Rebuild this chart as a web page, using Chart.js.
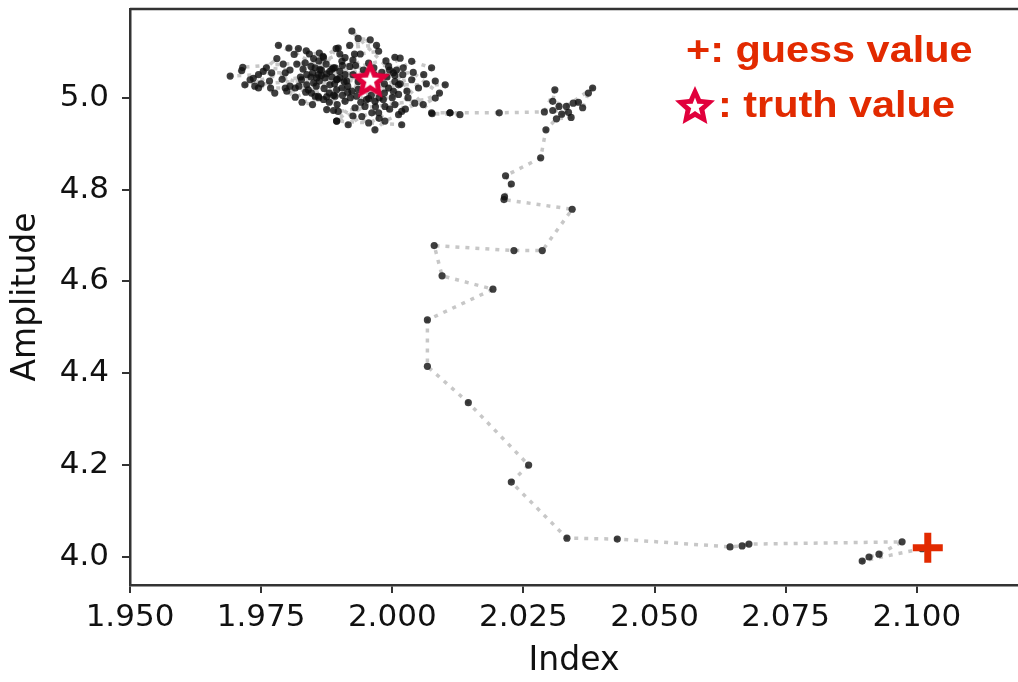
<!DOCTYPE html>
<html>
<head>
<meta charset="utf-8">
<script src="https://cdn.jsdelivr.net/npm/chart.js@4.4.1/dist/chart.umd.min.js"></script>
<style>
  html, body { margin: 0; padding: 0; background: #fff; }
  #wrap { width: 1018px; height: 682px; }
</style>
</head>
<body>
<div id="wrap"><canvas id="chart" width="1018" height="682"></canvas></div>
<script>
// tick labels
const xTicks = [1.950, 1.975, 2.000, 2.025, 2.050, 2.075, 2.100];
const yTicks = [4.0, 4.2, 4.4, 4.6, 4.8, 5.0];

// guess and truth
const guessIndex = [2.1021];
const guessAmp = [4.020];
const truthIndex = [1.9958];
const truthAmp = [5.039];

// descent from the guess up to the cluster
const approachIndex = [2.1010, 2.0896, 2.0909, 2.0928, 2.0972, 2.0680, 2.0667, 2.0644, 2.0429, 2.0333,
  2.0227, 2.0260, 2.0145, 2.0067, 2.0067, 2.0192, 2.0095, 2.0080, 2.0232, 2.0286,
  2.0343, 2.0213, 2.0214, 2.0227, 2.0216, 2.0283, 2.0293, 2.0313, 2.0341, 2.0323,
  2.0336, 2.0306, 2.0318, 2.0345, 2.0355, 2.0363, 2.0374, 2.0382, 2.0332, 2.0306,
  2.0310, 2.0290, 2.0204, 2.0110, 2.0076];
const approachAmp = [4.018, 3.991, 4.000, 4.006, 4.033, 4.028, 4.024, 4.022, 4.039, 4.041,
  4.163, 4.200, 4.336, 4.415, 4.516, 4.583, 4.612, 4.678, 4.667, 4.667,
  4.757, 4.778, 4.784, 4.812, 4.830, 4.869, 4.930, 4.954, 4.957, 4.964,
  4.968, 4.972, 4.981, 4.988, 4.990, 4.978, 5.010, 5.021, 4.981, 4.992,
  5.017, 4.969, 4.967, 4.967, 4.965];

// wandering around the truth value
const clusterIndex = [2.0129, 2.0110, 2.0075,
  1.9923, 1.9935, 1.9958, 1.9919, 1.9897, 1.9970, 1.9974, 1.9939, 1.9904, 1.9919,
  1.9900, 2.0005, 2.0015, 1.9993, 2.0021, 2.0002, 2.0037, 2.0075, 2.0060, 2.0037,
  2.0050, 2.0082, 2.0101, 2.0012, 2.0028, 2.0002, 1.9913, 1.9904, 1.9923, 1.9910,
  1.9932, 1.9951, 1.9967, 1.9983, 1.9986, 2.0005, 2.0018, 2.0043, 2.0059, 2.0082,
  1.9897, 1.9916, 1.9942, 1.9961, 1.9974, 1.9967, 1.9986, 2.0012, 2.0018, 1.9894,
  1.9948, 1.9929, 2.0012, 1.9910, 1.9900, 1.9993, 1.9891,
  1.9860, 1.9875, 1.9885, 1.9890, 1.9880, 1.9905, 1.9915, 1.9925, 1.9930, 1.9945,
  1.9950, 1.9960, 1.9940, 1.9975, 1.9985, 1.9980, 1.9990, 2.0000, 1.9965, 1.9955,
  1.9935, 1.9920, 1.9895, 1.9870, 1.9865, 1.9850, 1.9845, 1.9830, 1.9900, 1.9910,
  1.9970, 2.0005, 2.0020, 2.0030, 1.9995, 1.9975, 1.9955, 1.9925, 1.9880, 1.9860,
  1.9825, 1.9835, 1.9845, 1.9855, 1.9865, 1.9875, 1.9885, 1.9895, 1.9905, 1.9915,
  1.9925, 1.9935, 1.9945, 1.9955, 1.9965, 1.9975, 1.9985, 1.9995, 2.0005, 2.0015,
  1.9828, 1.9848, 1.9868, 1.9888, 1.9908, 1.9928, 1.9948, 1.9968, 1.9988, 2.0008,
  1.9790, 1.9805, 1.9760, 1.9780, 1.9735, 1.9750, 2.0040, 2.0065, 2.0090, 2.0025,
  1.9783, 1.9803, 1.9821, 1.9813, 1.9836, 1.9842, 1.9861, 1.9869, 1.9893, 1.9874,
  1.9818, 1.9834, 1.9792, 1.9715, 1.9713, 1.9691, 1.9745, 1.9770, 1.9796, 1.9719,
  1.9738, 1.9745, 1.9766, 1.9768, 1.9796, 1.9805, 1.9815, 1.9822, 1.9827, 1.9837,
  1.9848, 1.9859, 1.9861, 1.9850, 1.9856, 1.9881, 1.9888, 1.9894, 1.9815, 1.9799,
  1.9840, 1.9853, 1.9859, 1.9869, 1.9891, 1.9875, 1.9888, 1.9894, 1.9862, 1.9853,
  1.9872, 1.9881, 1.9894, 1.9846, 1.9837, 1.9754, 1.9729, 1.9776];
const clusterAmp = [4.963, 4.967, 4.967,
  5.145, 5.129, 5.126, 5.114, 5.108, 5.114, 5.101, 5.095, 5.079, 5.068,
  5.057, 5.088, 5.086, 5.068, 5.065, 5.054, 5.079, 5.065, 5.050, 5.039,
  5.021, 5.036, 5.028, 5.028, 5.014, 5.014, 5.036, 5.021, 5.014, 4.992,
  5.003, 4.996, 4.992, 4.996, 4.981, 4.985, 4.970, 4.988, 4.985, 4.999,
  4.970, 4.941, 4.959, 4.967, 4.967, 4.930, 4.949, 4.963, 4.941, 4.949,
  4.981, 4.978, 5.007, 5.087, 5.043, 5.021, 5.065,
  5.080, 5.052, 5.045, 5.030, 5.010, 5.005, 5.025, 5.050, 5.070, 5.060,
  5.020, 5.005, 4.990, 5.000, 5.030, 5.055, 5.045, 5.000, 5.050, 5.075,
  5.035, 5.000, 4.985, 5.020, 5.060, 5.085, 5.045, 5.062, 5.095, 5.050,
  5.025, 5.035, 5.050, 5.000, 4.975, 4.955, 4.945, 4.960, 4.990, 5.000,
  5.045, 5.012, 5.068, 5.025, 5.048, 5.002, 5.062, 5.040, 5.070, 5.012,
  5.082, 5.018, 5.045, 4.998, 5.065, 5.040, 5.010, 5.060, 5.048, 5.030,
  4.990, 4.985, 5.090, 5.005, 5.035, 5.095, 5.030, 4.980, 5.080, 5.060,
  5.040, 5.060, 5.065, 5.085, 5.042, 5.030, 5.055, 5.030, 5.010, 4.975,
  5.114, 5.108, 5.107, 5.094, 5.102, 5.095, 5.097, 5.087, 5.107, 5.073,
  5.073, 5.076, 5.073, 5.066, 5.059, 5.047, 5.050, 5.054, 5.054, 5.028,
  5.025, 5.021, 5.036, 5.021, 5.021, 5.025, 5.021, 5.025, 5.039, 5.050,
  5.054, 5.050, 5.036, 5.032, 5.043, 5.057, 5.065, 5.039, 5.001, 5.014,
  5.017, 5.003, 5.003, 4.996, 5.003, 4.974, 4.972, 4.949, 5.061, 5.065,
  5.043, 5.028, 5.017, 5.010, 5.028, 5.057, 5.039, 5.010];

const pathIndex = approachIndex.concat(clusterIndex);
const pathAmp = approachAmp.concat(clusterAmp);

const RED = '#e22a00';
const CRIMSON = '#e1003c';

function starPath(ctx, cx, cy, R, r) {
  ctx.beginPath();
  for (let i = 0; i < 10; i++) {
    const a = -Math.PI / 2 + i * Math.PI / 5;
    const rad = i % 2 ? r : R;
    ctx.lineTo(cx + Math.cos(a) * rad, cy + Math.sin(a) * rad);
  }
  ctx.closePath();
}

function makeStar() {
  const c = document.createElement('canvas');
  c.width = 48; c.height = 48;
  const g = c.getContext('2d');
  g.fillStyle = CRIMSON;
  starPath(g, 24, 25, 21, 10);
  g.fill();
  g.fillStyle = '#fff';
  starPath(g, 24, 25, 9.5, 4);
  g.fill();
  return c;
}
const starImg = makeStar();

function toPoints(xs, ys) {
  return xs.map((x, i) => ({ x: x, y: ys[i] }));
}

const frameAndNotes = {
  id: 'frameAndNotes',
  afterDraw(chart) {
    const ctx = chart.ctx;
    const a = chart.chartArea;
    ctx.save();
    ctx.strokeStyle = '#333';
    ctx.lineWidth = 2.5;
    ctx.beginPath();
    ctx.moveTo(a.left, a.top);
    ctx.lineTo(a.right, a.top);
    ctx.stroke();

    ctx.fillStyle = RED;
    ctx.font = 'bold 36px "Liberation Sans", Arial, sans-serif';
    ctx.textBaseline = 'alphabetic';
    ctx.save();
    ctx.translate(686, 62);
    ctx.scale(1.15, 1);
    ctx.fillText('+: guess value', 0, 0);
    ctx.restore();
    ctx.drawImage(starImg, 695 - 24, 107 - 25);
    ctx.save();
    ctx.translate(718, 117);
    ctx.scale(1.15, 1);
    ctx.fillText(': truth value', 0, 0);
    ctx.restore();
    ctx.restore();
  }
};

const tickFont = { family: '"DejaVu Sans", sans-serif', size: 31 };
const titleFont = { family: '"DejaVu Sans", sans-serif', size: 33 };

new Chart(document.getElementById('chart'), {
  type: 'scatter',
  data: {
    datasets: [
      {
        label: 'truth',
        data: toPoints(truthIndex, truthAmp),
        pointStyle: starImg,
        order: 0
      },
      {
        label: 'guess',
        data: toPoints(guessIndex, guessAmp),
        pointStyle: 'cross',
        pointRadius: 15,
        pointBorderWidth: 7,
        pointBorderColor: RED,
        order: 1
      },
      {
        label: 'path',
        data: toPoints(pathIndex, pathAmp),
        showLine: true,
        borderColor: 'rgba(0,0,0,0.22)',
        borderWidth: 3.5,
        borderDash: [4, 6],
        borderJoinStyle: 'round',
        pointRadius: 3.6,
        pointBorderWidth: 0,
        pointBackgroundColor: 'rgba(15,15,15,0.8)',
        order: 2
      }
    ]
  },
  options: {
    responsive: false,
    animation: false,
    layout: { autoPadding: false, padding: { top: 9, right: 0, bottom: 0, left: 0 } },
    plugins: { legend: { display: false }, tooltip: { enabled: false } },
    scales: {
      x: {
        type: 'linear',
        min: 1.95,
        max: 2.1193,
        afterBuildTicks: (s) => { s.ticks = xTicks.map(v => ({ value: v })); },
        afterFit: (s) => { s.height = 97; s.paddingLeft = 0; s.paddingRight = 0; },
        ticks: {
          font: tickFont, color: '#111', padding: 6, maxRotation: 0, autoSkip: false,
          callback: (v) => Number(v).toFixed(3)
        },
        grid: { drawOnChartArea: false, tickLength: 8, color: '#333', lineWidth: 2 },
        border: { display: true, color: '#333', width: 2.5 },
        title: { display: true, text: 'Index', font: titleFont, color: '#111', padding: { top: 0, bottom: 1 } }
      },
      y: {
        type: 'linear',
        min: 3.939,
        max: 5.193,
        afterBuildTicks: (s) => { s.ticks = yTicks.map(v => ({ value: v })); },
        afterFit: (s) => { s.width = 130; s.paddingTop = 0; s.paddingBottom = 0; },
        ticks: {
          font: tickFont, color: '#111', padding: 13, autoSkip: false,
          callback: (v) => Number(v).toFixed(1)
        },
        grid: { drawOnChartArea: false, tickLength: 8, color: '#333', lineWidth: 2 },
        border: { display: true, color: '#333', width: 2.5 },
        title: { display: true, text: 'Amplitude', font: titleFont, color: '#111', padding: { top: 7, bottom: 0 } }
      }
    }
  },
  plugins: [frameAndNotes]
});
</script>
</body>
</html>
